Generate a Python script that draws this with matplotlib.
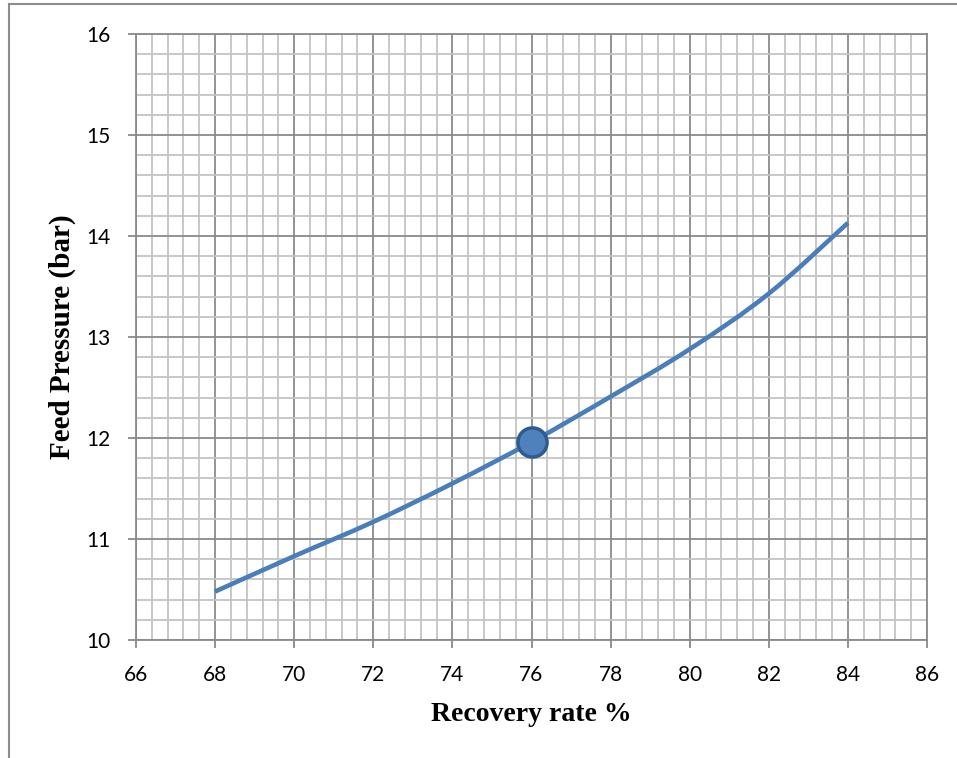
import matplotlib
matplotlib.use("Agg")
import matplotlib.pyplot as plt
from matplotlib.ticker import MultipleLocator
from matplotlib.lines import Line2D
from matplotlib.path import Path
from matplotlib.patches import PathPatch

# Recovery rate (%) vs. feed pressure (bar)
recovery = [68, 70, 72, 74, 76, 78, 80, 82, 84]
pressure = [10.48, 10.83, 11.17, 11.55, 11.96, 12.41, 12.88, 13.43, 14.13]

# Design point
design_recovery = [76]
design_pressure = [11.96]

x_ticks = [66, 68, 70, 72, 74, 76, 78, 80, 82, 84, 86]
y_ticks = [10, 11, 12, 13, 14, 15, 16]


def smooth_path(xs, ys):
    """Cubic Bezier path through the points (spreadsheet-style smoothed line)."""
    pts = list(zip(xs, ys))
    n = len(pts)
    verts = [pts[0]]
    codes = [Path.MOVETO]
    for i in range(n - 1):
        p0 = pts[i - 1] if i > 0 else pts[i]
        p1 = pts[i]
        p2 = pts[i + 1]
        p3 = pts[i + 2] if i + 2 < n else pts[i + 1]
        c1 = (p1[0] + (p2[0] - p0[0]) / 6, p1[1] + (p2[1] - p0[1]) / 6)
        c2 = (p2[0] - (p3[0] - p1[0]) / 6, p2[1] - (p3[1] - p1[1]) / 6)
        verts += [c1, c2, p2]
        codes += [Path.CURVE4] * 3
    return Path(verts, codes)


W, H = 957, 758
fig = plt.figure(figsize=(W / 100, H / 100), dpi=100)
fig.patch.set_facecolor("white")

left, right, top, bottom = 136, 927, 34, 640
ax = fig.add_axes([left / W, 1 - bottom / H, (right - left) / W, (bottom - top) / H])

major_c = "#8a8a8a"
minor_c = "#c4c4c4"

ax.set_xlim(66, 86)
ax.set_ylim(10, 16)
ax.set_xticks(x_ticks)
ax.set_yticks(y_ticks)
ax.xaxis.set_minor_locator(MultipleLocator(0.4))
ax.yaxis.set_minor_locator(MultipleLocator(0.2))

ax.grid(which="minor", color=minor_c, linewidth=1.3, zorder=0)
ax.grid(which="major", color=major_c, linewidth=1.3, zorder=0.5)
ax.set_axisbelow(True)

for s in ax.spines.values():
    s.set_color(major_c)
    s.set_linewidth(1.3)

ax.tick_params(which="major", direction="out", length=6, width=1.3, color=major_c,
               labelsize=15, pad=12)
ax.tick_params(which="minor", length=0)

for lbl in ax.get_xticklabels() + ax.get_yticklabels():
    lbl.set_fontfamily("Lato")

curve = PathPatch(smooth_path(recovery, pressure), facecolor="none", edgecolor="#4a7ebb",
                  linewidth=3.3, capstyle="butt", zorder=3)
ax.add_patch(curve)
ax.plot(design_recovery, design_pressure, marker="o", linestyle="none", markersize=21,
        markerfacecolor="#4f81bd", markeredgecolor="#2f5b8f", markeredgewidth=2.5, zorder=4)

ax.set_xlabel("Recovery rate %", fontfamily="Liberation Serif", fontweight="bold",
              fontsize=20, labelpad=12)
ax.set_ylabel("Feed Pressure (bar)", fontfamily="Liberation Serif", fontweight="bold",
              fontsize=21, labelpad=8)

# Chart frame
fig.add_artist(Line2D([9 / W, 9 / W], [1 - 4 / H, 0], transform=fig.transFigure,
                      color="#8c8c8c", linewidth=1.5))
fig.add_artist(Line2D([9 / W, 1], [1 - 4 / H, 1 - 4 / H], transform=fig.transFigure,
                      color="#8c8c8c", linewidth=1.5))

fig.savefig("out.png", dpi=100, facecolor="white")
